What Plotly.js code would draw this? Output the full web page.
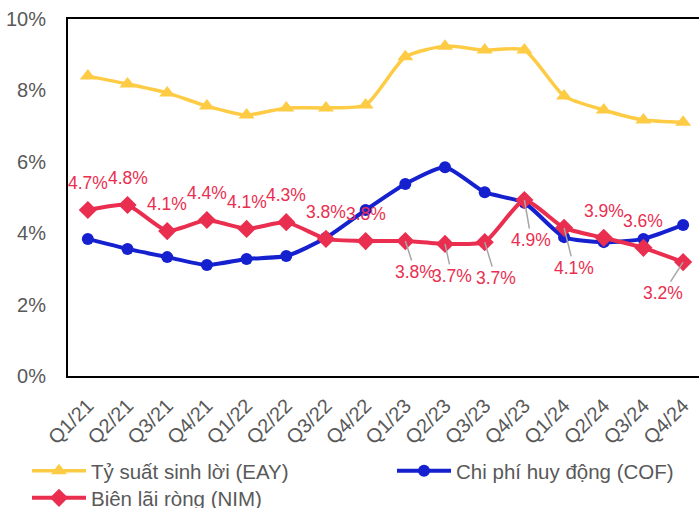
<!DOCTYPE html>
<html>
<head>
<meta charset="utf-8">
<script src="https://cdn.plot.ly/plotly-3.0.1.min.js"></script>
<style>
  html, body { margin: 0; padding: 0; background: #fff; }
  #plotDiv { width: 699px; height: 508px; }
</style>
</head>
<body>
<div id="plotDiv"></div>
<script>
let quarters = ['Q1/21', 'Q2/21', 'Q3/21', 'Q4/21', 'Q1/22', 'Q2/22', 'Q3/22', 'Q4/22',
  'Q1/23', 'Q2/23', 'Q3/23', 'Q4/23', 'Q1/24', 'Q2/24', 'Q3/24', 'Q4/24'];

let eay = [8.40, 8.18, 7.93, 7.56, 7.31, 7.51, 7.51, 7.59, 8.94, 9.24, 9.13, 9.13, 7.84, 7.45, 7.17, 7.11];
let cof = [3.84, 3.56, 3.33, 3.11, 3.28, 3.36, 3.87, 4.65, 5.38, 5.85, 5.15, 4.85, 3.89, 3.75, 3.84, 4.23];
let nim = [4.65, 4.79, 4.06, 4.37, 4.12, 4.31, 3.84, 3.78, 3.78, 3.70, 3.75, 4.93, 4.15, 3.87, 3.59, 3.19];
let nimLabels = ['4.7%', '4.8%', '4.1%', '4.4%', '4.1%', '4.3%', '3.8%', '3.8%',
  '3.8%', '3.7%', '3.7%', '4.9%', '4.1%', '3.9%', '3.6%', '3.2%'];

// label offsets in px: null = plain label above the point, otherwise [ax, ay] with leader line
let labelOffsets = [null, null, null, null, null, null, null, null,
  [10, 31], [7, 32], [11, 36], [7, 40], [10, 40], null, null, [-20, 31]];

let yellow = '#FECB45';
let blue = '#1520CF';
let red = '#EA2E4F';
let grey = '#595959';
let font = 'Liberation Sans, Arial, sans-serif';

let traces = [
  {
    x: quarters, y: eay, name: 'Tỷ suất sinh lời (EAY)', type: 'scatter', mode: 'lines+markers',
    line: { color: yellow, width: 3.5, shape: 'spline', smoothing: 0.6 },
    marker: { symbol: 'triangle-up', size: 14, color: yellow },
    legend: 'legend',
  },
  {
    x: quarters, y: cof, name: 'Chi phí huy động (COF)', type: 'scatter', mode: 'lines+markers',
    line: { color: blue, width: 4, shape: 'spline', smoothing: 0.6 },
    marker: { symbol: 'circle', size: 12, color: blue },
    legend: 'legend2',
  },
  {
    x: quarters, y: nim, name: 'Biên lãi ròng (NIM)', type: 'scatter', mode: 'lines+markers',
    line: { color: red, width: 4, shape: 'spline', smoothing: 0.5 },
    marker: { symbol: 'diamond', size: 14, color: red },
    legend: 'legend3',
  },
];

let annotations = quarters.map((q, i) => {
  let off = labelOffsets[i];
  let a = {
    x: q, y: nim[i], xref: 'x', yref: 'y', text: nimLabels[i],
    font: { family: font, size: 17.5, color: red },
  };
  if (off) {
    a.showarrow = true;
    a.arrowhead = 0;
    a.arrowwidth = 1.5;
    a.arrowcolor = '#A6A6A6';
    a.ax = off[0];
    a.ay = off[1];
    a.standoff = 0;
  } else {
    a.showarrow = false;
    a.yshift = 27;
  }
  return a;
});

// one legend per entry so each can sit where the reference puts it
let legendBase = {
  orientation: 'v',
  xref: 'paper',
  yref: 'container',
  xanchor: 'left',
  yanchor: 'middle',
  itemwidth: 54,
  tracegroupgap: 0,
  bgcolor: 'rgba(0,0,0,0)',
  font: { family: font, size: 20.5, color: grey },
};

let layout = {
  width: 699,
  height: 508,
  margin: { l: 68, r: 0, t: 19, b: 132 },
  paper_bgcolor: '#fff',
  plot_bgcolor: '#fff',
  showlegend: true,
  hovermode: false,
  font: { family: font, color: grey },
  xaxis: {
    type: 'category',
    range: [-0.5, 15.4],
    automargin: false,
    showgrid: false,
    zeroline: false,
    showline: true,
    mirror: true,
    linecolor: '#000',
    linewidth: 2,
    ticks: '',
    tickangle: -45,
    ticklabelstandoff: 8,
    tickfont: { family: font, size: 20, color: grey },
  },
  yaxis: {
    range: [0, 10],
    dtick: 2,
    ticksuffix: '%',
    automargin: false,
    showgrid: false,
    zeroline: false,
    showline: true,
    linecolor: '#000',
    linewidth: 2,
    ticks: '',
    ticklabelstandoff: 16,
    tickfont: { family: font, size: 20, color: grey },
  },
  legend: Object.assign({}, legendBase, { x: -0.065, y: 1 - 471 / 508 }),
  legend2: Object.assign({}, legendBase, { x: 0.5135, y: 1 - 471 / 508 }),
  legend3: Object.assign({}, legendBase, { x: -0.065, y: 1 - 498 / 508 }),
  annotations: annotations,
};

Plotly.newPlot('plotDiv', traces, layout, { displayModeBar: false, staticPlot: true });
</script>
</body>
</html>
